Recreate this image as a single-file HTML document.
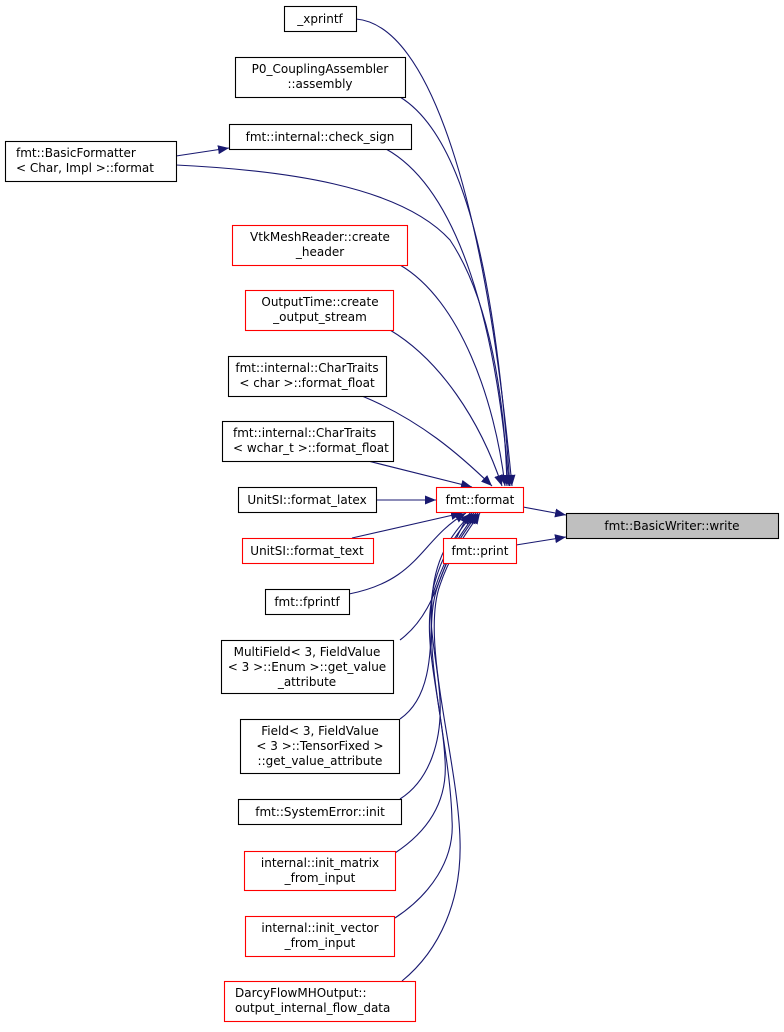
<!DOCTYPE html>
<html><head><meta charset="utf-8"><style>
body{margin:0;background:#fff}
svg text{font-family:"DejaVu Sans","Liberation Sans",sans-serif;font-size:12px;fill:#000}
</style></head><body>
<svg width="784" height="1027" viewBox="0 0 784 1027" xmlns="http://www.w3.org/2000/svg">
<defs><marker id="a" markerUnits="userSpaceOnUse" markerWidth="12" markerHeight="10" refX="11" refY="4.5" orient="auto"><path d="M0,0 L11,4.5 L0,9 Z" fill="#191970"/></marker></defs>
<g fill="none" stroke="#191970" stroke-width="1.1" marker-end="url(#a)">
<path d="M356,19 C430,25 485,200 512,486"/>
<path d="M400,97 C470,140 497,300 510,486"/>
<path d="M386,149 C460,190 497,330 509,486"/>
<path d="M176,165 C280,170 400,185 450,240 C490,300 505,400 507,486"/>
<path d="M176,156 L229,148"/>
<path d="M400,265 C460,300 495,400 505,486"/>
<path d="M390,330 C440,360 480,420 502,486"/>
<path d="M362,396 C420,420 460,455 492,486"/>
<path d="M368,461 L472,487"/>
<path d="M376,500 L436,500"/>
<path d="M352,538 L462,513"/>
<path d="M349,594 C420,580 420,540 466,513"/>
<path d="M400,640 C440,610 440,560 470,513"/>
<path d="M400,719 C435,695 430,640 432,600 C434,560 450,535 472,513"/>
<path d="M400,799 C430,780 442,740 440,700 C438,660 425,620 434,585 C442,555 455,535 474,513"/>
<path d="M395,853 C430,830 448,800 445,760 C442,700 418,630 436,585 C446,555 460,535 476,513"/>
<path d="M395,918 C430,895 455,860 452,820 C450,740 418,640 438,585 C448,555 462,535 478,513"/>
<path d="M402,981 C440,950 462,900 460,840 C458,760 420,640 440,585 C450,555 465,535 480,513"/>
<path d="M523,507 L566,515"/>
<path d="M516,545 L566,537"/>
</g>
<g stroke-width="1.1" fill="#fff">
<rect x="284.5" y="6.5" width="72" height="25" stroke="#000"/>
<rect x="235.5" y="57.5" width="170" height="40" stroke="#000"/>
<rect x="229.5" y="124.5" width="182" height="25" stroke="#000"/>
<rect x="5.5" y="141.5" width="171" height="40" stroke="#000"/>
<rect x="232.5" y="225.5" width="175" height="40" stroke="#f00"/>
<rect x="245.5" y="290.5" width="148" height="40" stroke="#f00"/>
<rect x="228.5" y="356.5" width="158" height="40" stroke="#000"/>
<rect x="222.5" y="421.5" width="171" height="40" stroke="#000"/>
<rect x="238.5" y="487.5" width="138" height="25" stroke="#000"/>
<rect x="242.5" y="538.5" width="131" height="25" stroke="#f00"/>
<rect x="265.5" y="589.5" width="84" height="25" stroke="#000"/>
<rect x="221.5" y="640.5" width="172" height="53" stroke="#000"/>
<rect x="240.5" y="719.5" width="159" height="54" stroke="#000"/>
<rect x="238.5" y="799.5" width="163" height="25" stroke="#000"/>
<rect x="244.5" y="851.5" width="151" height="39" stroke="#f00"/>
<rect x="245.5" y="916.5" width="149" height="40" stroke="#f00"/>
<rect x="224.5" y="981.5" width="191" height="40" stroke="#f00"/>
<rect x="436.5" y="487.5" width="87" height="25" stroke="#f00"/>
<rect x="443.5" y="538.5" width="73" height="25" stroke="#f00"/>
<rect x="566.5" y="513.5" width="212" height="25" stroke="#000" fill="#bfbfbf"/>
</g>
<g text-anchor="middle">
<text x="320" y="23">_xprintf</text>
<text x="320" y="73">P0_CouplingAssembler</text><text x="320" y="88">::assembly</text>
<text x="320" y="141">fmt::internal::check_sign</text>
<text x="16" y="157" text-anchor="start">fmt::BasicFormatter</text><text x="16" y="172" text-anchor="start">&lt; Char, Impl &gt;::format</text>
<text x="320" y="241">VtkMeshReader::create</text><text x="320" y="256">_header</text>
<text x="320" y="306">OutputTime::create</text><text x="320" y="321">_output_stream</text>
<text x="307" y="372">fmt::internal::CharTraits</text><text x="307" y="387">&lt; char &gt;::format_float</text>
<text x="233" y="437" text-anchor="start">fmt::internal::CharTraits</text><text x="233" y="452" text-anchor="start">&lt; wchar_t &gt;::format_float</text>
<text x="307" y="504">UnitSI::format_latex</text>
<text x="307" y="555">UnitSI::format_text</text>
<text x="307" y="606">fmt::fprintf</text>
<text x="307" y="656">MultiField&lt; 3, FieldValue</text><text x="307" y="671">&lt; 3 &gt;::Enum &gt;::get_value</text><text x="307" y="686">_attribute</text>
<text x="320" y="735">Field&lt; 3, FieldValue</text><text x="320" y="750">&lt; 3 &gt;::TensorFixed &gt;</text><text x="320" y="765">::get_value_attribute</text>
<text x="320" y="816">fmt::SystemError::init</text>
<text x="320" y="867">internal::init_matrix</text><text x="320" y="882">_from_input</text>
<text x="320" y="932">internal::init_vector</text><text x="320" y="947">_from_input</text>
<text x="235" y="997" text-anchor="start">DarcyFlowMHOutput::</text><text x="235" y="1012" text-anchor="start">output_internal_flow_data</text>
<text x="480" y="504">fmt::format</text>
<text x="480" y="555">fmt::print</text>
<text x="672" y="530">fmt::BasicWriter::write</text>
</g>
</svg>
</body></html>
